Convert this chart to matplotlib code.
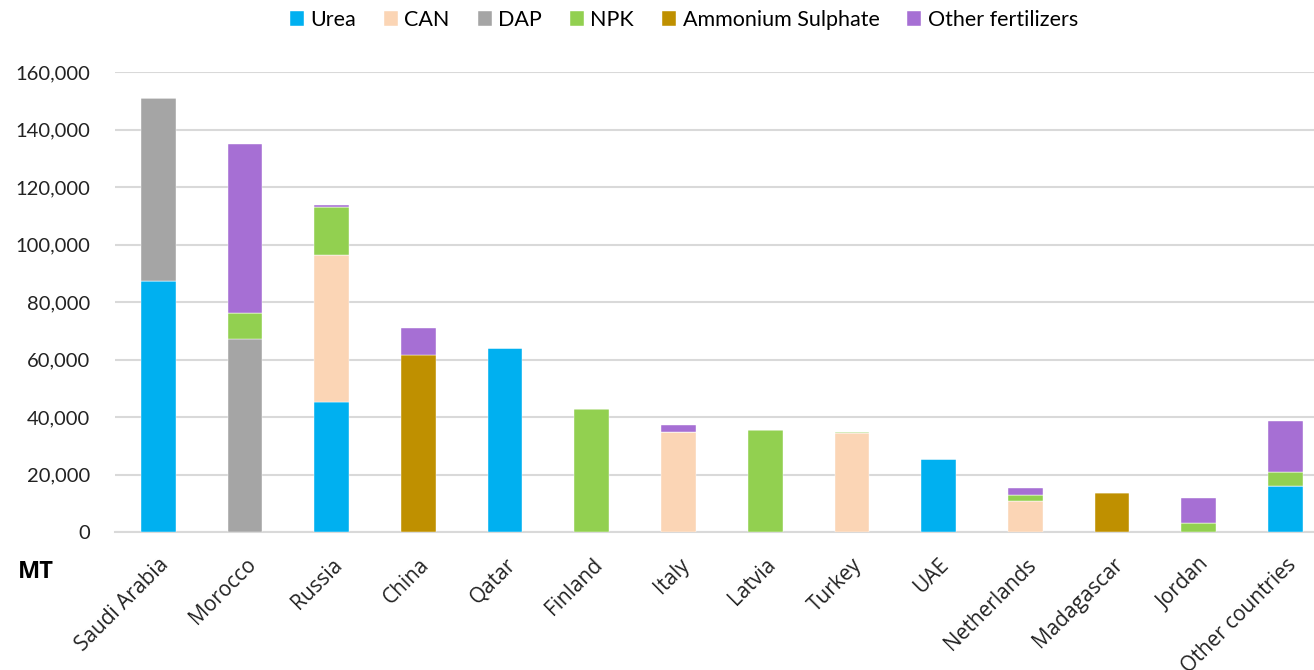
import numpy as np
import matplotlib.pyplot as plt
from matplotlib.ticker import FuncFormatter

plt.rcParams['font.family'] = ['Lato', 'DejaVu Sans']

# Datos (MT)
countries = ['Saudi Arabia', 'Morocco', 'Russia', 'China', 'Qatar', 'Finland', 'Italy',
             'Latvia', 'Turkey', 'UAE', 'Netherlands', 'Madagascar', 'Jordan', 'Other countries']
urea = [87300, 0, 45200, 0, 64000, 0, 0, 0, 0, 25300, 0, 0, 0, 16100]
can = [0, 0, 51300, 0, 0, 0, 34800, 0, 34500, 0, 10800, 0, 0, 0]
dap = [63700, 67100, 0, 0, 0, 0, 0, 0, 0, 0, 0, 0, 0, 0]
npk = [0, 9100, 16600, 0, 0, 42800, 0, 35400, 400, 0, 2000, 0, 3200, 4800]
amm_sulphate = [0, 0, 0, 61600, 0, 0, 0, 0, 0, 0, 0, 13500, 0, 0]
other = [0, 58800, 600, 9400, 0, 0, 2400, 0, 0, 0, 2500, 0, 8600, 17700]

series = [('Urea', urea, '#00b0f0'),
          ('CAN', can, '#fbd5b5'),
          ('DAP', dap, '#a5a5a5'),
          ('NPK', npk, '#92d050'),
          ('Ammonium Sulphate', amm_sulphate, '#bf9000'),
          ('Other fertilizers', other, '#a66fd4')]

fig = plt.figure(figsize=(13.14, 6.70), dpi=100)
ax = fig.add_axes([115 / 1314, 1 - 532 / 670, 1 - 115 / 1314, (532 - 72) / 670])

x = np.arange(len(countries))
bottom = np.zeros(len(countries))
for name, vals, col in series:
    vals = np.array(vals, dtype=float)
    ax.bar(x, vals, 0.4, bottom=bottom, color=col, label=name, zorder=3,
           edgecolor='white', linewidth=0.3)
    bottom += vals

ax.set_ylim(0, 160000)
ax.set_xlim(-0.5, 13.33)
ax.set_yticks(np.arange(0, 160001, 20000))
ax.yaxis.set_major_formatter(FuncFormatter(lambda v, p: f'{int(v):,}'))
ax.grid(axis='y', color='#d9d9d9', linewidth=1.5, zorder=0)
for s in ['top', 'right', 'left']:
    ax.spines[s].set_visible(False)
ax.spines['bottom'].set_color('#d9d9d9')
ax.spines['bottom'].set_linewidth(1.5)
ax.tick_params(axis='y', length=0, labelsize=14.5, pad=18, labelcolor='#222222')
ax.tick_params(axis='x', length=0, pad=16, labelcolor='#222222')
ax.set_xticks(x)
ax.set_xticklabels(countries, rotation=45, ha='right', rotation_mode='anchor',
                   family=['Open Sans', 'DejaVu Sans'], fontsize=15)

fig.text(18 / 1314, 1 - 572 / 670, 'MT', fontsize=17, fontweight='bold', va='center',
         family=['Open Sans', 'DejaVu Sans'])

fig.legend(loc='center', bbox_to_anchor=(684 / 1314, 1 - 20 / 670), ncol=6, frameon=False,
           fontsize=15.5, handlelength=0.65, handleheight=0.65, handletextpad=0.3,
           columnspacing=1.3)

fig.savefig('out.png', dpi=100)
